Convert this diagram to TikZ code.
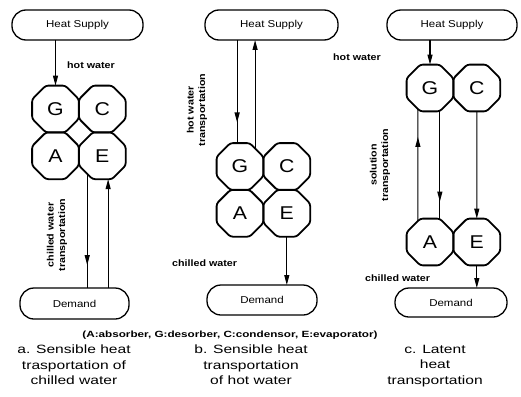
\documentclass[tikz,border=0pt]{standalone}
\usepackage{fontspec}
\setmainfont{Liberation Sans}[FakeStretch=1.15]
\newfontfamily\capfont{Liberation Sans}[FakeStretch=1.3]
\usetikzlibrary{shapes.geometric,arrows.meta,decorations.markings}
\tikzset{
 oct/.style={draw, line width=1.8pt, rounded corners=2.5pt, shape=regular polygon, regular polygon sides=8, minimum size=50.6pt, inner sep=0pt, outer sep=0pt, font=\fontsize{18.5}{20}\selectfont},
 endbox/.style={draw, line width=1.3pt, rounded corners=14pt, minimum height=30pt, inner sep=0pt, outer sep=0pt, font=\fontsize{10}{12}\selectfont},
 flow/.style={line width=1.1pt},
 endarrow/.style={-{Triangle[length=10pt,width=5pt]}},
 midtip/.style={postaction={decorate}, decoration={markings, mark=at position #1 with {\arrow{Triangle[length=10pt,width=5pt]}}}},
 lbl/.style={font=\bfseries\fontsize{9.3}{11.5}\selectfont, inner sep=0pt},
 captext/.style={font=\capfont\fontsize{12}{15.5}\selectfont, align=center, inner sep=0pt}
}
\begin{document}
\begin{tikzpicture}[x=1pt,y=-1pt]
\useasboundingbox (0,0) rectangle (521,396);
% panel a
\node[endbox, minimum width=131pt] (hsa) at (77.5,25) {Heat Supply};
\node[oct] (ga) at (55.5,109) {G};
\node[oct] (ca) at (102.3,109) {C};
\node[oct] (aa) at (55.5,155.8) {A};
\node[oct] (ea) at (102.3,155.8) {E};
\node[endbox, minimum width=109pt, minimum height=31pt] (da) at (74.5,303.5) {Demand};
\draw[flow,endarrow] (hsa.south -| ga.north) -- (ga.north);
\node[lbl, anchor=west] (hwa) at (67,65) {hot water};
\draw[flow,midtip=0.8] (ea.-130) -- (ea.-130 |- da.north);
\draw[flow,endarrow] (ea.-76 |- da.north) -- (ea.-76);
\node[lbl, rotate=90, align=center] (cwa) at (57,235) {chilled water\\transportation};
% panel b
\node[endbox, minimum width=133pt] (hsb) at (271.5,25) {Heat Supply};
\node[oct] (gb) at (240,166.5) {G};
\node[oct] (cb) at (286.8,166.5) {C};
\node[oct] (ab) at (240,213.3) {A};
\node[oct] (eb) at (286.8,213.3) {E};
\node[endbox, minimum width=110pt] (db) at (262,300) {Demand};
\draw[flow,midtip=0.8] (gb.97 |- hsb.south) -- (gb.97);
\draw[flow,endarrow] (gb.50) -- (gb.50 |- hsb.south);
\node[lbl, rotate=90, align=center] (hwb) at (197,110) {hot water\\transportation};
\draw[flow,endarrow] (eb.south) -- (eb.south |- db.north);
\node[lbl, anchor=west] (cwb) at (172,263) {chilled water};
% panel c
\node[endbox, minimum width=130pt] (hsc) at (452,25) {Heat Supply};
\node[oct] (gc) at (430,88) {G};
\node[oct] (cc) at (476.8,88) {C};
\node[oct] (ac) at (430,242) {A};
\node[oct] (ec) at (476.8,242) {E};
\node[endbox, minimum width=112pt, minimum height=29pt] (dc) at (451,302.5) {Demand};
\draw[flow,endarrow] (hsc.south -| gc.north) -- (gc.north);
\node[lbl, anchor=west] (hwc) at (333,57) {hot water};
\draw[flow,midtip=0.75] (ac.120) -- (gc.-120);
\draw[flow,midtip=0.84] (gc.-67) -- (ac.67);
\draw[flow,endarrow] (cc.south) -- (ec.north);
\draw[flow,endarrow] (ec.south) -- (ec.south |- dc.north);
\node[lbl, rotate=90, align=center] (stc) at (380,165) {solution\\transportation};
\node[lbl, anchor=west] (cwc) at (365,278) {chilled water};
% legend and captions
\node[font=\capfont\bfseries\fontsize{9}{11}\selectfont, inner sep=0pt] (leg) at (230,335.5) {(A:absorber, G:desorber, C:condensor, E:evaporator)};
\node[captext, anchor=north] (capa) at (74,345) {a. Sensible heat\\trasportation of\\chilled water};
\node[captext, anchor=north] (capb) at (251,345) {b. Sensible heat\\transportation\\of hot water};
\node[captext, anchor=north] (capc) at (435,345) {c. Latent\\heat\\transportation};
\end{tikzpicture}
\end{document}
